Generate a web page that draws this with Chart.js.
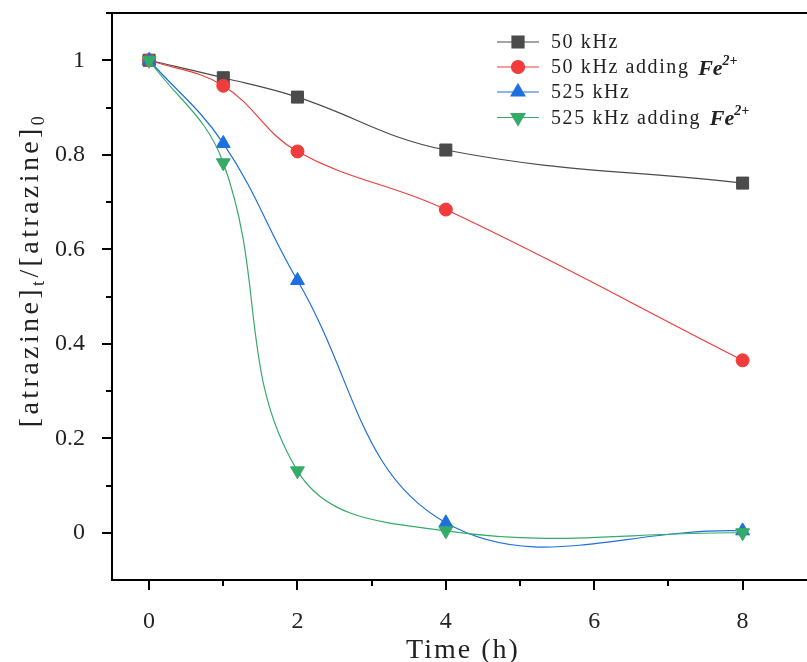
<!DOCTYPE html>
<html>
<head>
<meta charset="utf-8">
<script src="https://cdn.jsdelivr.net/npm/chart.js@4/dist/chart.umd.min.js"></script>
<style>
  html, body { margin: 0; padding: 0; background: #fff; overflow: hidden; }
  #wrap { width: 807px; height: 662px; position: relative; }
  canvas { display: block; }
</style>
</head>
<body>
<div id="wrap"><canvas id="chart"></canvas></div>
<script>
// data
const times = [0, 1, 2, 4, 8];
const khz50 = [1.0, 0.963, 0.922, 0.810, 0.740];
const khz50Fe = [1.0, 0.946, 0.807, 0.684, 0.365];
const khz525 = [1.0, 0.824, 0.534, 0.021, 0.004];
const khz525Fe = [1.0, 0.783, 0.131, 0.004, 0.0];

const seriesNames = ["50 kHz", "50 kHz adding ", "525 kHz", "525 kHz adding "];
const xMajor = [0, 2, 4, 6, 8];
const xMinor = [1, 3, 5, 7];
const yMajor = [0, 0.2, 0.4, 0.6, 0.8, 1];
const yMinor = [0.1, 0.3, 0.5, 0.7, 0.9, 1.1];

const FONT = "'Liberation Serif', 'DejaVu Serif', serif";
const INK = "#222";

function pts(ys) {
    return times.map((t, i) => ({ x: t, y: ys[i] }));
}

function makeSet(label, ys, color, style, radius, rot, order) {
    return {
        label: label,
        data: pts(ys),
        borderColor: color,
        backgroundColor: color,
        borderWidth: 1.2,
        pointStyle: style,
        pointRadius: radius,
        pointHoverRadius: radius,
        pointRotation: rot,
        pointBorderWidth: 1,
        pointBorderColor: color,
        pointBackgroundColor: color,
        tension: 0.4,
        order: order
    };
}

function noPad(s) {
    s.paddingTop = 0;
    s.paddingBottom = 0;
    s.paddingLeft = 0;
    s.paddingRight = 0;
}

// axes, ticks, titles and legend
const decor = {
    id: "decor",
    afterDraw(chart) {
        const ctx = chart.ctx;
        const a = chart.chartArea;
        const xs = chart.scales.x;
        const ys = chart.scales.y;
        ctx.save();
        ctx.strokeStyle = "#000";
        ctx.lineWidth = 2;
        ctx.beginPath();
        ctx.moveTo(a.left, a.top);
        ctx.lineTo(807, a.top);
        ctx.moveTo(a.left, a.top - 1);
        ctx.lineTo(a.left, a.bottom + 1);
        ctx.moveTo(a.left - 1, a.bottom);
        ctx.lineTo(807, a.bottom);
        xMajor.forEach(v => {
            const p = Math.round(xs.getPixelForValue(v));
            ctx.moveTo(p, a.bottom); ctx.lineTo(p, a.bottom + 10);
        });
        xMinor.forEach(v => {
            const p = Math.round(xs.getPixelForValue(v));
            ctx.moveTo(p, a.bottom); ctx.lineTo(p, a.bottom + 6);
        });
        yMajor.forEach(v => {
            const p = Math.round(ys.getPixelForValue(v));
            ctx.moveTo(a.left, p); ctx.lineTo(a.left - 10, p);
        });
        yMinor.forEach(v => {
            const p = Math.round(ys.getPixelForValue(v));
            ctx.moveTo(a.left, p); ctx.lineTo(a.left - 6, p);
        });
        ctx.stroke();

        // x title
        ctx.fillStyle = INK;
        ctx.letterSpacing = "2px";
        ctx.font = "28px " + FONT;
        ctx.textAlign = "center";
        ctx.textBaseline = "alphabetic";
        ctx.fillText("Time (h)", 463, 658);

        // y title with subscripts
        ctx.save();
        ctx.translate(38, 270);
        ctx.rotate(-Math.PI / 2);
        ctx.letterSpacing = "3.4px";
        const parts = [
            ["[atrazine]", 28, 0],
            ["t", 18, 6],
            ["/[atrazine]", 28, 0],
            ["0", 18, 6]
        ];
        let total = 0;
        parts.forEach(p => {
            ctx.font = p[1] + "px " + FONT;
            total += ctx.measureText(p[0]).width;
        });
        let cx = -total / 2;
        ctx.textAlign = "left";
        parts.forEach(p => {
            ctx.font = p[1] + "px " + FONT;
            ctx.fillText(p[0], cx, p[2]);
            cx += ctx.measureText(p[0]).width;
        });
        ctx.restore();

        // legend
        const rowsY = [42, 67, 92, 117.5];
        chart.data.datasets.forEach((ds, i) => {
            const y = rowsY[i];
            ctx.strokeStyle = ds.borderColor;
            ctx.lineWidth = 1.2;
            ctx.letterSpacing = "0px";
            ctx.beginPath();
            ctx.moveTo(497, y);
            ctx.lineTo(539, y);
            ctx.stroke();
            ctx.fillStyle = ds.backgroundColor;
            Chart.helpers.drawPoint(ctx, {
                pointStyle: ds.pointStyle,
                radius: ds.pointRadius,
                rotation: ds.pointRotation,
                borderWidth: 1
            }, 518, y);
            ctx.fillStyle = INK;
            ctx.textAlign = "left";
            ctx.textBaseline = "middle";
            ctx.font = "20px " + FONT;
            ctx.letterSpacing = "1.6px";
            ctx.fillText(seriesNames[i], 551, y + 1);
            if (i % 2 === 1) {
                const w = ctx.measureText(seriesNames[i]).width;
                ctx.letterSpacing = "0px";
                ctx.font = "italic bold 22px " + FONT;
                ctx.fillText("Fe", 551 + w + 2, y + 2);
                const fw = ctx.measureText("Fe").width;
                ctx.font = "italic bold 14px " + FONT;
                ctx.fillText("2+", 551 + w + 2 + fw, y - 6);
            }
        });
        ctx.restore();
    }
};

new Chart(document.getElementById("chart"), {
    type: "line",
    data: {
        datasets: [
            makeSet(seriesNames[0], khz50, "#4b4b4b", "rect", 8.5, 0, 4),
            makeSet(seriesNames[1], khz50Fe, "#f03c3c", "circle", 6.5, 0, 3),
            makeSet(seriesNames[2], khz525, "#1d6fe0", "triangle", 8, 0, 2),
            makeSet(seriesNames[3], khz525Fe, "#36ab68", "triangle", 8, 180, 1)
        ]
    },
    options: {
        responsive: true,
        maintainAspectRatio: false,
        animation: false,
        layout: { padding: { top: 13, right: 0, left: 0, bottom: 0 } },
        plugins: {
            legend: { display: false },
            tooltip: { enabled: false }
        },
        scales: {
            x: {
                type: "linear",
                min: -0.5,
                max: 8.74,
                grid: { display: false },
                border: { display: false },
                afterBuildTicks: s => { s.ticks = xMajor.map(v => ({ value: v })); },
                afterFit: s => { s.height = 82; noPad(s); },
                ticks: {
                    padding: 19,
                    color: INK,
                    font: { family: FONT, size: 24 },
                    maxRotation: 0,
                    callback: v => String(v)
                }
            },
            y: {
                type: "linear",
                min: -0.1,
                max: 1.1,
                grid: { display: false },
                border: { display: false },
                afterBuildTicks: s => { s.ticks = yMajor.map(v => ({ value: v })); },
                afterFit: s => { s.width = 112; noPad(s); },
                ticks: {
                    padding: 19,
                    color: INK,
                    font: { family: FONT, size: 24 },
                    callback: v => String(Math.round(v * 10) / 10)
                }
            }
        }
    },
    plugins: [decor]
});
</script>
</body>
</html>
